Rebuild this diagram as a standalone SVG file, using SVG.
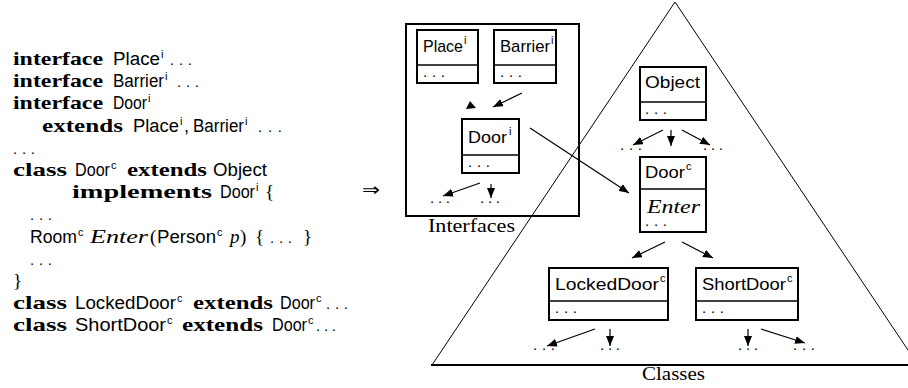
<svg xmlns="http://www.w3.org/2000/svg" width="908" height="388" viewBox="0 0 908 388">
<style>
.kw{font-family:"Liberation Serif","DejaVu Serif",serif;font-weight:bold;font-size:19px;fill:#000}
.sf{font-family:"Liberation Sans","DejaVu Sans",sans-serif;font-size:18px;fill:#000}
.rm{font-family:"Liberation Serif","DejaVu Serif",serif;font-size:19px;fill:#000}
.it{font-family:"Liberation Serif","DejaVu Serif",serif;font-style:italic;font-size:19px;fill:#000}
.sup{font-family:"Liberation Sans","DejaVu Sans",sans-serif;font-size:11px;fill:#000}
.lab{font-family:"Liberation Sans","DejaVu Sans",sans-serif;font-size:17px;fill:#000}
.cap{font-family:"Liberation Serif","DejaVu Serif",serif;font-size:19px;fill:#000}
.dots{font-family:"Liberation Sans","DejaVu Sans",sans-serif;font-size:15px;fill:#000}
.box{fill:#fff;stroke:#000;stroke-width:2}
.div{stroke:#000;stroke-width:1.6}
.edge{stroke:#000;stroke-width:1.2;fill:none;marker-end:url(#ah)}
.thin{stroke:#000;stroke-width:1;fill:none}
</style>
<defs>
<marker id="ah" viewBox="0 0 10 8" refX="10" refY="4" markerWidth="10" markerHeight="8" markerUnits="userSpaceOnUse" orient="auto">
<path d="M0,0 L10,4 L0,8 z" fill="#000"/>
</marker>
</defs>
<rect width="908" height="388" fill="#fff"/>

<g id="code">
<text y="65"><tspan class="kw" x="13" textLength="90" lengthAdjust="spacingAndGlyphs">interface</tspan><tspan class="sf" x="113" textLength="47" lengthAdjust="spacingAndGlyphs">Place</tspan><tspan class="sup" x="161" dy="-7">i</tspan><tspan class="dots" x="170" dy="7" textLength="22" lengthAdjust="spacing">...</tspan></text>
<text y="87"><tspan class="kw" x="13" textLength="90" lengthAdjust="spacingAndGlyphs">interface</tspan><tspan class="sf" x="113" textLength="51" lengthAdjust="spacingAndGlyphs">Barrier</tspan><tspan class="sup" x="165" dy="-7">i</tspan><tspan class="dots" x="177" dy="7" textLength="22" lengthAdjust="spacing">...</tspan></text>
<text y="109"><tspan class="kw" x="13" textLength="90" lengthAdjust="spacingAndGlyphs">interface</tspan><tspan class="sf" x="113" textLength="34" lengthAdjust="spacingAndGlyphs">Door</tspan><tspan class="sup" x="148" dy="-7">i</tspan></text>
<text y="132"><tspan class="kw" x="42" textLength="81" lengthAdjust="spacingAndGlyphs">extends</tspan><tspan class="sf" x="133" textLength="46" lengthAdjust="spacingAndGlyphs">Place</tspan><tspan class="sup" x="180" dy="-7">i</tspan><tspan class="sf" x="184" dy="7">,</tspan><tspan class="sf" x="193" textLength="51" lengthAdjust="spacingAndGlyphs">Barrier</tspan><tspan class="sup" x="245" dy="-7">i</tspan><tspan class="dots" x="258" dy="7" textLength="24" lengthAdjust="spacing">...</tspan></text>
<text y="154"><tspan class="dots" x="13" textLength="22" lengthAdjust="spacing">...</tspan></text>
<text y="176"><tspan class="kw" x="13" textLength="54" lengthAdjust="spacingAndGlyphs">class</tspan><tspan class="sf" x="75" textLength="35" lengthAdjust="spacingAndGlyphs">Door</tspan><tspan class="sup" x="111" dy="-7">c</tspan><tspan class="kw" x="127" dy="7" textLength="80" lengthAdjust="spacingAndGlyphs">extends</tspan><tspan class="sf" x="213" textLength="54" lengthAdjust="spacingAndGlyphs">Object</tspan></text>
<text y="198"><tspan class="kw" x="72" textLength="140" lengthAdjust="spacingAndGlyphs">implements</tspan><tspan class="sf" x="220" textLength="35" lengthAdjust="spacingAndGlyphs">Door</tspan><tspan class="sup" x="256" dy="-7">i</tspan><tspan class="rm" x="265" dy="7">{</tspan></text>
<text y="220"><tspan class="dots" x="30" textLength="22" lengthAdjust="spacing">...</tspan></text>
<text y="243"><tspan class="sf" x="30" textLength="47" lengthAdjust="spacingAndGlyphs">Room</tspan><tspan class="sup" x="78" dy="-7">c</tspan><tspan class="it" x="90" dy="7" textLength="58" lengthAdjust="spacingAndGlyphs">Enter</tspan><tspan class="rm" x="150">(</tspan><tspan class="sf" x="157" textLength="59" lengthAdjust="spacingAndGlyphs">Person</tspan><tspan class="sup" x="217" dy="-7">c</tspan><tspan class="it" x="230" dy="7">p</tspan><tspan class="rm" x="240">)</tspan><tspan class="rm" x="255">{</tspan><tspan class="dots" x="270" textLength="22" lengthAdjust="spacing">...</tspan><tspan class="rm" x="303">}</tspan></text>
<text y="265"><tspan class="dots" x="30" textLength="22" lengthAdjust="spacing">...</tspan></text>
<text y="287"><tspan class="rm" x="13">}</tspan></text>
<text y="309"><tspan class="kw" x="13" textLength="54" lengthAdjust="spacingAndGlyphs">class</tspan><tspan class="sf" x="75" textLength="101" lengthAdjust="spacingAndGlyphs">LockedDoor</tspan><tspan class="sup" x="177" dy="-7">c</tspan><tspan class="kw" x="193" dy="7" textLength="80" lengthAdjust="spacingAndGlyphs">extends</tspan><tspan class="sf" x="280" textLength="35" lengthAdjust="spacingAndGlyphs">Door</tspan><tspan class="sup" x="316" dy="-7">c</tspan><tspan class="dots" x="326" dy="7" textLength="22" lengthAdjust="spacing">...</tspan></text>
<text y="331"><tspan class="kw" x="13" textLength="54" lengthAdjust="spacingAndGlyphs">class</tspan><tspan class="sf" x="75" textLength="91" lengthAdjust="spacingAndGlyphs">ShortDoor</tspan><tspan class="sup" x="167" dy="-7">c</tspan><tspan class="kw" x="182" dy="7" textLength="81" lengthAdjust="spacingAndGlyphs">extends</tspan><tspan class="sf" x="272" textLength="35" lengthAdjust="spacingAndGlyphs">Door</tspan><tspan class="sup" x="308" dy="-7">c</tspan><tspan class="dots" x="316" dy="7" textLength="20" lengthAdjust="spacing">...</tspan></text>
</g>

<text x="362" y="196" font-family="DejaVu Sans, sans-serif" font-size="18" textLength="18" lengthAdjust="spacingAndGlyphs">⇒</text>

<g id="frames">
<rect x="406" y="24" width="173" height="192" fill="none" stroke="#000" stroke-width="2"/>
<text class="cap" x="428" y="232" textLength="87" lengthAdjust="spacingAndGlyphs">Interfaces</text>
<line class="thin" x1="675" y1="2" x2="432" y2="365"/>
<line class="thin" x1="675" y1="2" x2="918" y2="365"/>
<line x1="431" y1="365" x2="908" y2="365" stroke="#000" stroke-width="2"/>
<text class="cap" x="642" y="380" textLength="63" lengthAdjust="spacingAndGlyphs">Classes</text>
</g>

<g id="place-i">
<rect class="box" x="417" y="30" width="61" height="53"/>
<line class="div" x1="417" y1="65" x2="478" y2="65"/>
<text class="lab" x="423" y="52" textLength="40" lengthAdjust="spacingAndGlyphs">Place</text>
<text class="sup" x="464" y="44">i</text>
<text class="dots" x="423" y="77" textLength="22" lengthAdjust="spacing">...</text>
</g>
<g id="barrier-i">
<rect class="box" x="494" y="30" width="62" height="53"/>
<line class="div" x1="494" y1="65" x2="556" y2="65"/>
<text class="lab" x="500" y="52" textLength="50" lengthAdjust="spacingAndGlyphs">Barrier</text>
<text class="sup" x="551" y="44">i</text>
<text class="dots" x="500" y="77" textLength="22" lengthAdjust="spacing">...</text>
</g>
<g id="door-i">
<rect class="box" x="462" y="119" width="57" height="54"/>
<line class="div" x1="462" y1="155" x2="519" y2="155"/>
<text class="lab" x="468" y="143" textLength="39" lengthAdjust="spacingAndGlyphs">Door</text>
<text class="sup" x="509" y="135">i</text>
<text class="dots" x="468" y="167" textLength="22" lengthAdjust="spacing">...</text>
</g>
<g id="object">
<rect class="box" x="640" y="67" width="66" height="53"/>
<line class="div" x1="640" y1="102" x2="706" y2="102"/>
<text class="lab" x="645" y="88" textLength="55" lengthAdjust="spacingAndGlyphs">Object</text>
<text class="dots" x="645" y="114" textLength="22" lengthAdjust="spacing">...</text>
</g>
<g id="door-c">
<rect class="box" x="640" y="157" width="66" height="75"/>
<line class="div" x1="640" y1="189" x2="706" y2="189"/>
<text class="lab" x="645" y="178" textLength="40" lengthAdjust="spacingAndGlyphs">Door</text>
<text class="sup" x="686" y="170">c</text>
<text class="it" x="647" y="213" textLength="53" lengthAdjust="spacingAndGlyphs">Enter</text>
<text class="dots" x="645" y="226" textLength="22" lengthAdjust="spacing">...</text>
</g>
<g id="lockeddoor-c">
<rect class="box" x="549" y="268" width="119" height="52"/>
<line class="div" x1="549" y1="301" x2="668" y2="301"/>
<text class="lab" x="555" y="290" textLength="104" lengthAdjust="spacingAndGlyphs">LockedDoor</text>
<text class="sup" x="660" y="282">c</text>
<text class="dots" x="555" y="313" textLength="22" lengthAdjust="spacing">...</text>
</g>
<g id="shortdoor-c">
<rect class="box" x="696" y="268" width="102" height="52"/>
<line class="div" x1="696" y1="301" x2="798" y2="301"/>
<text class="lab" x="702" y="290" textLength="84" lengthAdjust="spacingAndGlyphs">ShortDoor</text>
<text class="sup" x="787" y="282">c</text>
<text class="dots" x="702" y="313" textLength="22" lengthAdjust="spacing">...</text>
</g>

<g id="ellipses">
<text class="dots" x="430" y="203" textLength="20" lengthAdjust="spacing">...</text>
<text class="dots" x="480" y="203" textLength="20" lengthAdjust="spacing">...</text>
<text class="dots" x="620" y="150" textLength="22" lengthAdjust="spacing">...</text>
<text class="dots" x="703" y="150" textLength="20" lengthAdjust="spacing">...</text>
<text class="dots" x="533" y="350" textLength="22" lengthAdjust="spacing">...</text>
<text class="dots" x="600" y="350" textLength="20" lengthAdjust="spacing">...</text>
<text class="dots" x="738" y="350" textLength="20" lengthAdjust="spacing">...</text>
<text class="dots" x="793" y="350" textLength="22" lengthAdjust="spacing">...</text>
</g>

<g id="connectors">
<line class="edge" x1="522" y1="93" x2="493" y2="107"/>
<polygon points="466,109 476,108 470,101" fill="#000"/>
<line class="edge" x1="480" y1="183" x2="443" y2="196"/>
<line class="edge" x1="491" y1="184" x2="491" y2="198"/>
<line class="edge" x1="530" y1="128" x2="629" y2="193"/>
<line class="edge" x1="663" y1="130" x2="633" y2="145"/>
<line class="edge" x1="671" y1="130" x2="671" y2="146"/>
<line class="edge" x1="682" y1="130" x2="710" y2="145"/>
<line class="edge" x1="665" y1="242" x2="632" y2="258"/>
<line class="edge" x1="682" y1="242" x2="713" y2="258"/>
<line class="edge" x1="595" y1="329" x2="547" y2="346"/>
<line class="edge" x1="610" y1="329" x2="610" y2="346"/>
<line class="edge" x1="748" y1="329" x2="748" y2="346"/>
<line class="edge" x1="761" y1="329" x2="805" y2="343"/>
</g>
</svg>
